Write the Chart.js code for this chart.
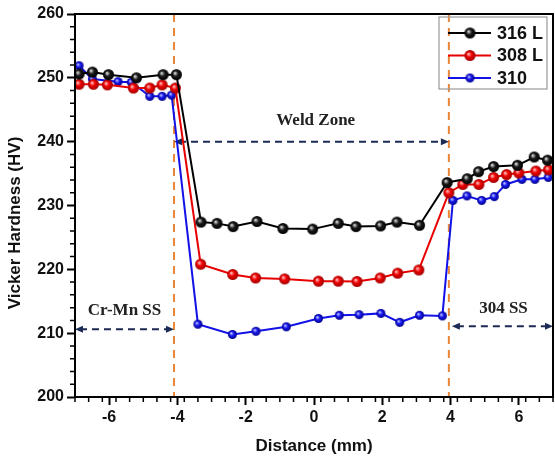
<!DOCTYPE html>
<html>
<head>
<meta charset="utf-8"/>
<title>Vicker Hardness profile</title>
<script src="https://cdn.jsdelivr.net/npm/chart.js"></script>
<style>
  html, body { margin: 0; padding: 0; background: #fff; overflow: hidden; }
  #wrap { width: 555px; height: 463px; overflow: hidden; }
</style>
</head>
<body>
<div id="wrap"><canvas id="hardness" width="560" height="463"></canvas></div>
<script>
// values
const seriesNames = ['316 L', '308 L', '310'];

const x316 = [-6.88, -6.49, -6.02, -5.20, -4.42, -4.03, -3.31, -2.84, -2.37, -1.67, -0.91, -0.04, 0.71, 1.23, 1.95, 2.43, 3.09, 3.90, 4.49, 4.82, 5.26, 5.96, 6.45, 6.84];
const y316 = [250.6, 250.9, 250.5, 250.0, 250.5, 250.5, 227.4, 227.2, 226.7, 227.5, 226.4, 226.3, 227.2, 226.7, 226.8, 227.4, 226.9, 233.6, 234.2, 235.3, 236.1, 236.3, 237.6, 237.1];

const x308 = [-6.88, -6.46, -6.05, -5.29, -4.81, -4.45, -4.06, -3.32, -2.38, -1.71, -0.86, 0.13, 0.71, 1.26, 1.94, 2.45, 3.07, 3.95, 4.36, 4.83, 5.26, 5.64, 6.00, 6.50, 6.87];
const y308 = [249.0, 249.0, 248.9, 248.4, 248.4, 248.9, 248.4, 220.8, 219.2, 218.65, 218.5, 218.15, 218.15, 218.1, 218.65, 219.4, 219.9, 232.0, 233.3, 233.3, 234.4, 234.85, 235.1, 235.4, 235.6];

const x310 = [-6.88, -6.49, -5.74, -5.35, -4.81, -4.45, -4.17, -3.40, -2.39, -1.70, -0.81, 0.13, 0.74, 1.32, 1.96, 2.51, 3.09, 3.76, 4.07, 4.48, 4.91, 5.28, 5.61, 6.09, 6.47, 6.86];
const y310 = [251.9, 249.8, 249.4, 249.3, 247.1, 247.1, 247.3, 211.4, 209.8, 210.3, 211.0, 212.3, 212.8, 212.9, 213.1, 211.7, 212.8, 212.7, 230.8, 231.5, 230.8, 231.4, 233.3, 234.1, 234.1, 234.4];

const xTicks = [-6, -4, -2, 0, 2, 4, 6];
const yTicks = [200, 210, 220, 230, 240, 250, 260];

const zoneLines = [-4.1, 3.95];
const zoneLabels = ['Cr-Mn SS', 'Weld Zone', '304 SS'];
const yTitle = 'Vicker Hardness (HV)';

function sphere(r, light, base, dark) {
  const c = document.createElement('canvas');
  c.width = c.height = 2 * r + 2;
  const g = c.getContext('2d');
  const m = r + 1;
  const grad = g.createRadialGradient(m - r * 0.3, m - r * 0.3, r * 0.05, m, m, r);
  grad.addColorStop(0, light);
  grad.addColorStop(0.45, base);
  grad.addColorStop(1, dark);
  g.fillStyle = grad;
  g.beginPath();
  g.arc(m, m, r, 0, Math.PI * 2);
  g.fill();
  return c;
}

const colors = ['#000000', '#e80000', '#1212e8'];
const markers = [
  sphere(5.5, '#e8e8e8', '#1a1a1a', '#000000'),
  sphere(5.5, '#ffc8c8', '#f00000', '#a00000'),
  sphere(4.5, '#c8d0ff', '#1818f0', '#00008a')
];

function pts(xs, ys) { return xs.map((x, i) => ({ x: x, y: ys[i] })); }

const navy = '#1c2b55';
const orange = '#e8863a';

function arrow(ctx, x1, x2, y) {
  ctx.save();
  ctx.strokeStyle = navy;
  ctx.fillStyle = navy;
  ctx.lineWidth = 2;
  ctx.setLineDash([7, 5]);
  ctx.beginPath();
  ctx.moveTo(x1 + 5, y);
  ctx.lineTo(x2 - 5, y);
  ctx.stroke();
  ctx.setLineDash([]);
  [[x1, 1], [x2, -1]].forEach(([x, d]) => {
    ctx.beginPath();
    ctx.moveTo(x, y);
    ctx.lineTo(x + d * 8, y - 3.5);
    ctx.lineTo(x + d * 8, y + 3.5);
    ctx.closePath();
    ctx.fill();
  });
  ctx.restore();
}

const decorations = {
  id: 'decorations',
  beforeDatasetsDraw(chart) {
    const { ctx, chartArea: a, scales: { x, y } } = chart;
    ctx.save();
    ctx.strokeStyle = orange;
    ctx.lineWidth = 2;
    ctx.setLineDash([8, 6]);
    zoneLines.forEach(v => {
      const px = x.getPixelForValue(v);
      ctx.beginPath();
      ctx.moveTo(px, a.top);
      ctx.lineTo(px, a.bottom);
      ctx.stroke();
    });
    ctx.restore();

    arrow(ctx, a.left, x.getPixelForValue(zoneLines[0]), y.getPixelForValue(210.6));
    arrow(ctx, x.getPixelForValue(zoneLines[0]), x.getPixelForValue(zoneLines[1]), y.getPixelForValue(240));
    arrow(ctx, x.getPixelForValue(zoneLines[1]) + 3, a.right, y.getPixelForValue(211.1));

    ctx.save();
    ctx.fillStyle = '#222';
    ctx.font = 'bold 17px "Liberation Serif", "Times New Roman", serif';
    ctx.textAlign = 'center';
    ctx.textBaseline = 'middle';
    ctx.fillText(zoneLabels[0], x.getPixelForValue(-5.55), y.getPixelForValue(213.6));
    ctx.fillText(zoneLabels[1], x.getPixelForValue(0.05), y.getPixelForValue(243.3));
    ctx.fillText(zoneLabels[2], x.getPixelForValue(5.55), y.getPixelForValue(213.9));
    ctx.restore();
  },
  afterDraw(chart) {
    const { ctx, chartArea: a, scales: { x, y } } = chart;
    ctx.save();
    // frame
    ctx.strokeStyle = '#000';
    ctx.lineWidth = 2;
    ctx.strokeRect(a.left, a.top, a.right - a.left, a.bottom - a.top);
    // minor ticks
    ctx.lineWidth = 1.5;
    ctx.beginPath();
    for (let i = 0; i <= 35; i++) {
      const v = -7 + i * 0.4;
      const px = x.getPixelForValue(v);
      ctx.moveTo(px, a.bottom);
      ctx.lineTo(px, a.bottom + 5);
    }
    for (let v = 202; v < 260; v += 2) {
      if (v % 10 === 0) continue;
      const py = y.getPixelForValue(v);
      ctx.moveTo(a.left, py);
      ctx.lineTo(a.left - 5, py);
    }
    ctx.stroke();

    // y axis title
    ctx.fillStyle = '#111';
    ctx.font = 'bold 17px Arial, "Liberation Sans", sans-serif';
    ctx.textAlign = 'center';
    ctx.textBaseline = 'middle';
    ctx.translate(15, 223);
    ctx.rotate(-Math.PI / 2);
    ctx.fillText(yTitle, 0, 0);
    ctx.setTransform(1, 0, 0, 1, 0, 0);

    // legend
    const lx = 439, ly = 17, lw = 108, lh = 72;
    ctx.strokeStyle = '#9a9a9a';
    ctx.lineWidth = 1.2;
    ctx.strokeRect(lx, ly, lw, lh);
    ctx.font = 'bold 18px Arial, "Liberation Sans", sans-serif';
    ctx.textBaseline = 'middle';
    ctx.textAlign = 'left';
    seriesNames.forEach((name, i) => {
      const cy = ly + 16 + i * 22.5;
      ctx.strokeStyle = colors[i];
      ctx.lineWidth = 2;
      ctx.beginPath();
      ctx.moveTo(448, cy);
      ctx.lineTo(491, cy);
      ctx.stroke();
      const m = markers[i];
      ctx.drawImage(m, 470 - m.width / 2, cy - m.height / 2);
      ctx.fillStyle = '#111';
      ctx.fillText(name, 497, cy + 1);
    });
    ctx.restore();
  }
};

const axisFont = { family: 'Arial, "Liberation Sans", sans-serif', weight: 'bold', size: 16 };
const titleFont = { family: 'Arial, "Liberation Sans", sans-serif', weight: 'bold', size: 17 };

new Chart(document.getElementById('hardness').getContext('2d'), {
  type: 'line',
  data: {
    datasets: [
      { label: seriesNames[0], data: pts(x316, y316) },
      { label: seriesNames[1], data: pts(x308, y308) },
      { label: seriesNames[2], data: pts(x310, y310) }
    ].map((d, i) => Object.assign(d, {
      borderColor: colors[i],
      backgroundColor: colors[i],
      borderWidth: 2,
      tension: 0,
      pointStyle: markers[i],
      pointRadius: 5,
      fill: false
    }))
  },
  options: {
    responsive: false,
    animation: false,
    devicePixelRatio: 1,
    layout: { padding: { top: 14, right: 0, left: 0, bottom: 0 } },
    plugins: { legend: { display: false }, tooltip: { enabled: false } },
    scales: {
      x: {
        type: 'linear',
        min: -7,
        max: 7,
        afterBuildTicks: s => { s.ticks = xTicks.map(v => ({ value: v })); },
        afterFit: s => { s.height = 66; },
        border: { color: '#000', width: 2 },
        grid: { drawOnChartArea: false, drawTicks: true, tickLength: 8, tickWidth: 2, color: '#000' },
        ticks: { color: '#111', font: axisFont, padding: 3 },
        title: { display: true, text: 'Distance (mm)', color: '#111', font: titleFont, padding: { top: 0, bottom: 6 } }
      },
      y: {
        min: 200,
        max: 260,
        afterBuildTicks: s => { s.ticks = yTicks.map(v => ({ value: v })); },
        afterFit: s => { s.width = 75; },
        border: { color: '#000', width: 2 },
        grid: { drawOnChartArea: false, drawTicks: true, tickLength: 8, tickWidth: 2, color: '#000' },
        ticks: { color: '#111', font: axisFont, padding: 3 }
      }
    }
  },
  plugins: [decorations]
});
</script>
</body>
</html>
